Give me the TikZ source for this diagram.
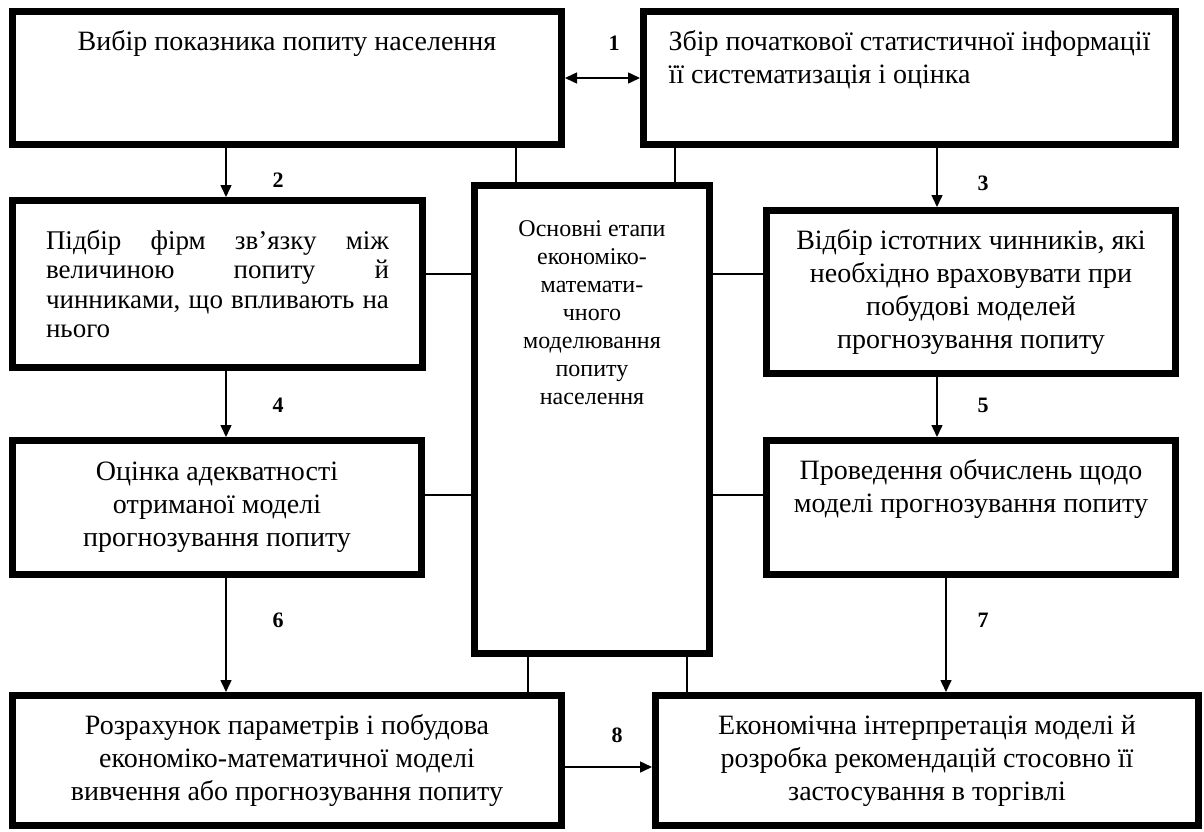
\documentclass[tikz,border=0pt]{standalone}
\usepackage{fontspec}
\setmainfont{Liberation Serif}
\usepackage{tikz}
\usetikzlibrary{arrows.meta,positioning,calc}

\tikzset{
  stage/.style={draw, line width=7pt, inner sep=0pt, align=center,
    font=\fontsize{28}{33}\selectfont},
  stagetxt/.style={inner sep=0pt, align=center, font=\fontsize{24}{28}\selectfont},
  link/.style={line width=1.2pt},
  flow/.style={line width=1.5pt},
  num/.style={inner sep=0pt, font=\fontsize{22}{22}\selectfont\bfseries}
}

\begin{document}
\begin{tikzpicture}[x=1pt, y=-1pt, >={Triangle[length=12pt,width=11pt]}]
  \useasboundingbox (0,0) rectangle (1204,832);
  % stage boxes with absolute coordinates
  \node[stage, minimum width=549pt, minimum height=133pt] (A) at (287,78)
    {Вибір показника попиту населення\\ \strut\\ \strut};
  \node[stage, minimum width=532pt, minimum height=133pt, align=left] (B) at (909.5,78)
    {Збір початкової статистичної інформації\\ її систематизація і оцінка\\ \strut};
  \node[stage, minimum width=235pt, minimum height=468pt] (C) at (592,419.5) {};
  \node[stagetxt, below=38pt of C.north] (Ct)
    {Основні етапи\\економіко-\\математи-\\чного\\моделювання\\попиту\\населення};
  \node[stage, minimum width=410pt, minimum height=167pt, text width=343pt, align=justify,
    font=\fontsize{27}{29.5}\selectfont] (D) at (217.5,284)
    {Підбір фірм зв’язку між\linebreak величиною попиту й\linebreak чинниками, що впливають на\linebreak нього};
  \node[stage, minimum width=409pt, minimum height=163pt] (E) at (971,292)
    {Відбір істотних чинників, які\\необхідно враховувати при\\побудові моделей\\прогнозування попиту};
  \node[stage, minimum width=409pt, minimum height=134pt] (F) at (217,507.5)
    {Оцінка адекватності\\отриманої моделі\\прогнозування попиту};
  \node[stage, minimum width=409pt, minimum height=134pt] (G) at (971,507.5)
    {Проведення обчислень щодо\\моделі прогнозування попиту\\ \strut};
  \node[stage, minimum width=549pt, minimum height=130pt] (H) at (287,760.5)
    {Розрахунок параметрів і побудова\\економіко-математичної моделі\\вивчення або прогнозування попиту};
  \node[stage, minimum width=543pt, minimum height=130pt] (I) at (927,760.5)
    {Економічна інтерпретація моделі й\\розробка рекомендацій стосовно її\\застосування в торгівлі};

  % tracks of the connectors
  \coordinate (al) at (226,0);
  \coordinate (ar) at (937,0);
  \coordinate (ar7) at (946,0);
  \coordinate (tl) at (516,0);
  \coordinate (tr) at (675,0);
  \coordinate (bl) at (528,0);
  \coordinate (br) at (687,0);
  \coordinate (r1) at (0,274);
  \coordinate (r2) at (0,495);
  \coordinate (r8) at (0,767);

  % directed edges
  \draw[flow, <->] (A.east) -- (B.west);
  \draw[flow, ->] (A.south -| al) -- (D.north -| al);
  \draw[flow, ->] (B.south -| ar) -- (E.north -| ar);
  \draw[flow, ->] (D.south -| al) -- (F.north -| al);
  \draw[flow, ->] (E.south -| ar) -- (G.north -| ar);
  \draw[flow, ->] (F.south -| al) -- (H.north -| al);
  \draw[flow, ->] (G.south -| ar7) -- (I.north -| ar7);
  \draw[flow, ->] (H.east |- r8) -- (I.west |- r8);

  % links to the central box
  \draw[link] (A.south -| tl) -- (C.north -| tl);
  \draw[link] (B.south -| tr) -- (C.north -| tr);
  \draw[link] (D.east |- r1) -- (C.west |- r1);
  \draw[link] (C.east |- r1) -- (E.west |- r1);
  \draw[link] (F.east |- r2) -- (C.west |- r2);
  \draw[link] (C.east |- r2) -- (G.west |- r2);
  \draw[link] (C.south -| bl) -- (H.north -| bl);
  \draw[link] (C.south -| br) -- (I.north -| br);

  % step numbers
  \node[num] (n1) at (614,43) {1};
  \node[num] (n2) at (278,180) {2};
  \node[num] (n3) at (983,183) {3};
  \node[num] (n4) at (278,405) {4};
  \node[num] (n5) at (983,405) {5};
  \node[num] (n6) at (278,620) {6};
  \node[num] (n7) at (983,620) {7};
  \node[num] (n8) at (617,735) {8};
\end{tikzpicture}
\end{document}
